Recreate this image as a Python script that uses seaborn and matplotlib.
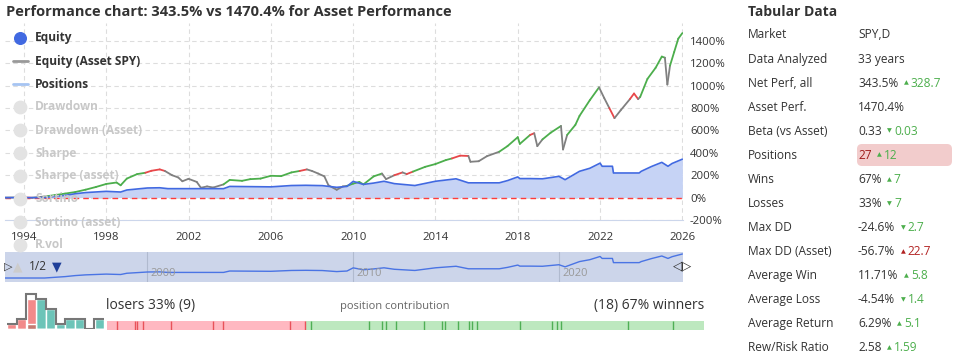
import matplotlib
matplotlib.use("Agg")
import matplotlib.pyplot as plt
import numpy as np
import seaborn as sns
from matplotlib.patches import FancyBboxPatch

W, H = 955, 360

# buy & hold equity of the asset (SPY), in %; letter = trade state of the stretch that starts there
asset_years = [
    1993.08, 1993.8, 1994.4, 1995.0, 1995.5, 1996.0, 1996.5, 1997.0, 1997.5, 1998.0,
    1998.5, 1998.7, 1999.0, 1999.5, 1999.9, 2000.2, 2000.6, 2000.85, 2001.2, 2001.5,
    2001.7, 2002.0, 2002.4, 2002.6, 2002.9, 2003.2, 2003.7, 2004.0, 2004.6, 2005.0,
    2005.5, 2006.0, 2006.5, 2007.0, 2007.4, 2007.75, 2008.0, 2008.3, 2008.6, 2008.8,
    2009.2, 2009.5, 2009.7, 2010.0, 2010.3, 2010.5, 2011.0, 2011.4, 2011.6, 2012.0,
    2012.4, 2012.6, 2012.9, 2013.5, 2014.0, 2014.5, 2014.8, 2015.2, 2015.6, 2015.7,
    2016.1, 2016.5, 2017.1, 2017.5, 2018.0, 2018.1, 2018.6, 2018.8, 2018.95, 2019.2,
    2019.6, 2020.1, 2020.2, 2020.4, 2020.8, 2021.0, 2021.5, 2021.95, 2022.2, 2022.45,
    2022.7, 2023.0, 2023.45, 2023.65, 2023.85, 2023.95, 2024.3, 2024.7, 2025.0, 2025.15,
    2025.27, 2025.4, 2025.6, 2025.8, 2026.0,
]
asset_values = [
    0, 2, -1, 10, 22, 36, 50, 71, 95, 122,
    135, 110, 170, 210, 222, 240, 252, 238, 200, 180,
    146, 168, 140, 88, 100, 90, 118, 158, 150, 165,
    170, 195, 192, 225, 238, 252, 238, 215, 190, 110,
    70, 100, 105, 125, 140, 118, 190, 215, 165, 200,
    225, 210, 232, 275, 300, 335, 350, 375, 372, 320,
    325, 370, 410, 460, 540, 480, 560, 575, 460, 520,
    580, 640, 430, 560, 650, 730, 870, 985, 890, 800,
    710, 780, 880, 930, 880, 900, 1060, 1160, 1260, 1250,
    1010, 1180, 1300, 1420, 1470,
]
asset_trade = (
    "nrnggggggg" "ggggrrrnnn" "nnnnnngggg" "ggggrnnnnn" "nngggggnnr"
    "nrggggrrnn" "nnggggrnng" "gnnggggnnr" "nnrrnggggn" "ngggg"
)

# strategy equity, in %
strategy_years = [
    1993.08, 1995.0, 1995.5, 1996.0, 1996.5, 1997.0, 1998.0, 1998.7, 1999.0, 2000.0,
    2000.6, 2001.0, 2003.7, 2004.0, 2005.0, 2006.0, 2007.0, 2007.7, 2008.5, 2009.2,
    2009.7, 2010.0, 2010.5, 2011.0, 2011.5, 2012.0, 2013.0, 2014.0, 2015.0, 2015.6,
    2017.1, 2017.5, 2018.0, 2018.1, 2018.6, 2019.2, 2020.0, 2020.3, 2021.0, 2021.5,
    2022.0, 2022.1, 2022.6, 2022.65, 2023.9, 2024.0, 2024.5, 2025.0, 2025.3, 2025.5, 2026.0,
]
strategy_values = [
    0, 0, 10, 20, 35, 45, 56, 50, 68, 86,
    88, 80, 80, 100, 98, 96, 108, 110, 107, 92,
    100, 145, 118, 130, 146, 125, 108, 146, 168, 132,
    132, 152, 185, 170, 170, 168, 190, 160, 235, 262,
    308, 280, 280, 220, 220, 235, 278, 315, 280, 305, 343.5,
]

x_ticks = [1994, 1998, 2002, 2006, 2010, 2014, 2018, 2022, 2026]
y_ticks = [-200, 0, 200, 400, 600, 800, 1000, 1200, 1400]
nav_ticks = [2000, 2010, 2020]

legend_on = ["Equity", "Equity (Asset SPY)", "Positions"]
legend_off = ["Drawdown", "Drawdown (Asset)", "Sharpe", "Sharpe (asset)",
              "Sortino", "Sortino (asset)", "R.vol"]

hist_losers = [1, 2, 6, 0, 0, 0, 0, 0, 0, 0]
hist_winners = [0, 0, 1, 6, 4, 1, 2, 2, 0, 2]

loser_share = 33.33
loser_marks = [1.7, 4.7, 5.0, 6.0, 10.7, 17.8, 19.4, 30.7, 33.2]
winner_marks = [34.2, 43.9, 46.1, 46.7, 48.4, 53.1, 56.1, 56.6, 58.8, 60.6,
                61.1, 62.0, 69.2, 74.5, 75.4, 76.0, 87.3, 94.8]

table_labels = ["Market", "Data Analyzed", "Net Perf, all", "Asset Perf.", "Beta (vs Asset)",
                "Positions", "Wins", "Losses", "Max DD", "Max DD (Asset)", "Average Win",
                "Average Loss", "Average Return", "Rew/Risk Ratio"]
table_values = ["SPY,D", "33 years", "343.5%", "1470.4%", "0.33", "27", "67%", "33%",
                "-24.6%", "-56.7%", "11.71%", "-4.54%", "6.29%", "2.58"]
table_deltas = ["", "", "328.7", "", "0.03", "12", "7", "7", "2.7", "22.7", "5.8", "1.4",
                "5.1", "1.59"]
table_dirs = ["", "", "up", "", "down", "up", "up", "down", "down", "up", "up", "down",
              "up", "up"]
table_bad = ["Max DD (Asset)"]

sns.set_style("white")
plt.rcParams["font.family"] = ["Open Sans", "DejaVu Sans"]

TXT = "#333333"
BLUE = "#4169e1"
TRADE_COLORS = {"g": "#4cae4c", "r": "#e8474a", "n": "#808080"}


def px_axes(fig, x0, y0, x1, y1):
    return fig.add_axes([x0 / W, 1 - y1 / H, (x1 - x0) / W, (y1 - y0) / H])


fig = plt.figure(figsize=(W / 100, H / 100), dpi=100)

# main chart
ax = px_axes(fig, 5, 23, 683, 220)
ax.set_xlim(1993.08, 2026.03)
ax.set_ylim(-200, 1560)
ax.set_xticks(x_ticks)
ax.set_yticks(y_ticks)
ax.set_yticklabels([f"{v}%" for v in y_ticks])
ax.yaxis.tick_right()
ax.grid(True, color="#dddddd", ls=(0, (4, 3)), lw=0.8)
ax.tick_params(axis="both", length=0, labelsize=8.2, labelcolor=TXT)
ax.tick_params(axis="x", pad=8.5)
ax.tick_params(axis="y", pad=5)
for side in ["top", "left", "right"]:
    ax.spines[side].set_visible(False)
ax.spines["bottom"].set_color("#ccd6eb")

ax.fill_between(strategy_years, strategy_values, 0, color="#c6d3f5", lw=0)
ax.axhline(0, color="#ff3b3b", ls=(0, (4, 3)), lw=1)
for i in range(len(asset_years) - 1):
    ax.plot(asset_years[i:i + 2], asset_values[i:i + 2],
            color=TRADE_COLORS[asset_trade[i]], lw=1.3, solid_capstyle="round")
sns.lineplot(x=strategy_years, y=strategy_values, ax=ax, color=BLUE, lw=1.2,
             estimator=None, sort=False)

# navigator
nav = px_axes(fig, 5, 252, 683, 282)
nav.set_facecolor("#ccd5ea")
nav.set_xlim(1993.08, 2026.03)
nav.set_ylim(-57, 372)
for yr in nav_ticks:
    nav.axvline(yr, color="#b0bacf", lw=0.8)
    nav.text(yr + 0.15, 0.3, str(yr), transform=nav.get_xaxis_transform(),
             ha="left", va="center", fontsize=8, color="#999999")
sns.lineplot(x=strategy_years, y=strategy_values, ax=nav, color="#4a74e4", lw=1,
             estimator=None, sort=False)
nav.set_xticks([])
nav.set_yticks([])
for s in nav.spines.values():
    s.set_visible(False)

# losers / winners histogram
hx = np.arange(len(hist_losers))
total = np.array(hist_losers) + np.array(hist_winners)
overlap = np.minimum(hist_losers, hist_winners)
hax = px_axes(fig, 7, 290, 104, 329)
hax.bar(hx, hist_winners, width=0.94, color="#6cc4b8")
hax.bar(hx, hist_losers, width=0.94, color="#f28a8a")
hax.bar(hx, overlap, width=0.94, color="#c67b72")
hax.stairs(total, np.arange(len(total) + 1) - 0.5, baseline=None, color="#777777", lw=1.5)
hax.set_xlim(-0.5, len(total) - 0.5)
hax.set_ylim(0, 7.8)
hax.axis("off")

# position contribution bar
cax = px_axes(fig, 107, 321, 704, 329.5)
cax.set_xlim(0, 100)
cax.set_ylim(0, 1)
cax.axvspan(0, loser_share, color="#ffb8c1", lw=0)
cax.axvspan(loser_share, 100, color="#bde8bf", lw=0)
cax.vlines(loser_marks, 0, 1, color="#e8525a", lw=1)
cax.vlines(winner_marks, 0, 1, color="#4fae55", lw=1)
cax.axis("off")

# overlay for texts, in pixels
ov = fig.add_axes([0, 0, 1, 1])
ov.set_xlim(0, W)
ov.set_ylim(H, 0)
ov.axis("off")

ov.text(6, 12, "Performance chart: 343.5% vs 1470.4% for Asset Performance",
        fontsize=10.5, fontweight="bold", color=TXT, va="center")

# legend
ov.scatter([20], [38], s=70, color=BLUE, zorder=5)
ov.plot([13, 28], [61, 61], color="#999999", lw=2)
ov.plot([13, 28], [84, 84], color="#a6c4f2", lw=2)
for i, name in enumerate(legend_on + legend_off):
    y = 38 + 23 * i
    if name in legend_off:
        ov.scatter([20], [y], s=80, color="#e3e3e3", zorder=5)
    ov.text(35, y, name, fontsize=8.6, fontweight="bold", va="center",
            color=TXT if name in legend_on else "#c8c8c8")

# navigator handles and legend paging
ov.text(4, 267, "▷", fontsize=8, va="center", ha="left", color="#333333")
ov.text(13, 267, "▲", fontsize=9, va="center", ha="left", color="#cccccc")
ov.text(29, 267, "1/2", fontsize=8.6, va="center", ha="left", color=TXT)
ov.text(52, 267, "▼", fontsize=9, va="center", ha="left", color="#1f3f99")
ov.text(683, 266, "◁▷", fontsize=9, va="center", ha="center", color="#333333")

ov.text(106, 305, "losers 33% (9)", fontsize=10, va="center", ha="left", color=TXT)
ov.text(395, 306, "position contribution", fontsize=8, va="center", ha="center",
        color="#666666")
ov.text(704, 305, "(18) 67% winners", fontsize=10, va="center", ha="right", color=TXT)

# table
ov.text(748, 12, "Tabular Data", fontsize=10, fontweight="bold", color=TXT, va="center")
ov.add_patch(FancyBboxPatch((857, 144), 95, 22, boxstyle="round,pad=0,rounding_size=5",
                            fc="#f2cccc", ec="none"))
for i, (lab, val, dl, dr) in enumerate(zip(table_labels, table_values, table_deltas, table_dirs)):
    y = 35 + 24.05 * i
    ov.text(748, y, lab, fontsize=8.6, va="center", color=TXT)
    vcol = "#a01c1c" if lab == "Positions" else TXT
    t = ov.text(858, y, val, fontsize=8.6, va="center", color=vcol)
    if dl:
        col = "#b22222" if lab in table_bad else "#4cae4c"
        arrow = "▲" if dr == "up" else "▼"
        a = ov.annotate(arrow, xy=(1, 0.5), xycoords=t, xytext=(4, 0),
                        textcoords="offset points", fontsize=4.5, va="center", color=col)
        ov.annotate(dl, xy=(1, 0.5), xycoords=a, xytext=(1.5, 0),
                    textcoords="offset points", fontsize=8.6, va="center", color=col)

fig.savefig("out.png", dpi=100)
